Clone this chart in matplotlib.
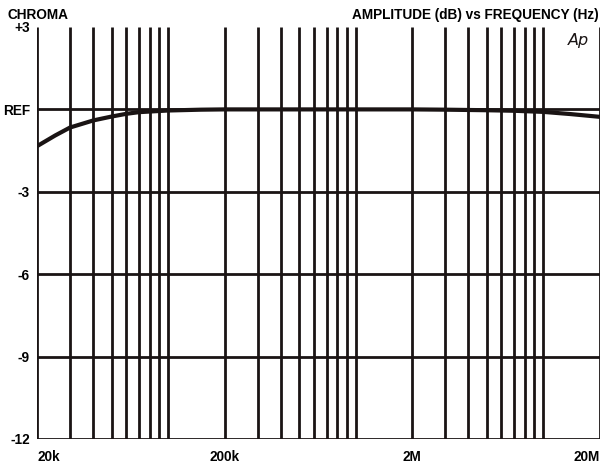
import matplotlib
matplotlib.use("Agg")
import matplotlib.pyplot as plt
from matplotlib.ticker import NullFormatter, FixedLocator

freq_hz = [20e3, 25e3, 30e3, 40e3, 50e3, 60e3, 70e3, 100e3, 150e3, 200e3,
           500e3, 1e6, 2e6, 3e6, 5e6, 7e6, 10e6, 14e6, 20e6]
amp_db = [-1.34, -0.95, -0.66, -0.40, -0.26, -0.16, -0.10, -0.04, -0.01, 0.0,
          0.0, 0.0, 0.0, -0.01, -0.03, -0.05, -0.09, -0.17, -0.27]

y_ticks = [3, 0, -3, -6, -9, -12]
y_labels = ["+3", "REF", "-3", "-6", "-9", "-12"]
x_ticks = [20e3, 200e3, 2e6, 20e6]
x_labels = ["20k", "200k", "2M", "20M"]
title_left = "CHROMA"
title_right = "AMPLITUDE (dB) vs FREQUENCY (Hz)"

FONT = ["Liberation Sans Narrow", "Liberation Sans", "DejaVu Sans"]
FS = 9.8

W, H = 601, 466
fig = plt.figure(figsize=(W / 100, H / 100), dpi=100)
left, right, top, bottom = 37, 599.5, 27, 439
ax = fig.add_axes([left / W, 1 - bottom / H, (right - left) / W, (bottom - top) / H])

ax.set_xscale("log")
ax.set_xlim(20e3, 20e6)
ax.set_ylim(-12, 3)

lw_grid = 2.0
for dec in [1e4, 1e5, 1e6, 1e7]:
    for m in range(1, 10):
        f = dec * m
        if 20e3 <= f <= 20e6:
            ax.axvline(f, color="#1a1414", lw=lw_grid, zorder=1, solid_capstyle="butt")
for yv in [0, -3, -6, -9, -12]:
    ax.axhline(yv, color="#1a1414", lw=lw_grid, zorder=1)

for s in ax.spines.values():
    s.set_visible(False)

ax.plot(freq_hz, amp_db, color="#1a1414", lw=3.0, zorder=3, solid_capstyle="round")

ax.yaxis.set_major_locator(FixedLocator(y_ticks))
ax.set_yticklabels(y_labels)
ax.xaxis.set_major_locator(FixedLocator(x_ticks))
ax.xaxis.set_minor_locator(FixedLocator([]))
ax.xaxis.set_minor_formatter(NullFormatter())
ax.set_xticklabels(x_labels)
ax.tick_params(axis="both", length=0, labelsize=FS)
ax.tick_params(axis="y", pad=5)
ax.tick_params(axis="x", pad=8)
for lab in ax.get_xticklabels() + ax.get_yticklabels():
    lab.set_family(FONT)
    lab.set_fontweight("bold")
xl = ax.get_xticklabels()
xl[0].set_ha("left")
xl[-1].set_ha("right")

fig.text(8 / W, 1 - 15 / H, title_left, ha="left", va="center", fontsize=FS,
         fontweight="bold", family=FONT)
fig.text(599 / W, 1 - 15 / H, title_right, ha="right", va="center", fontsize=FS,
         fontweight="bold", family=FONT)
fig.text(578 / W, 1 - 41 / H, "Ap", ha="center", va="center", fontsize=11.5,
         style="italic", family=["DejaVu Sans"], color="#1a1414")

fig.savefig("out.png", dpi=100, facecolor="white")
